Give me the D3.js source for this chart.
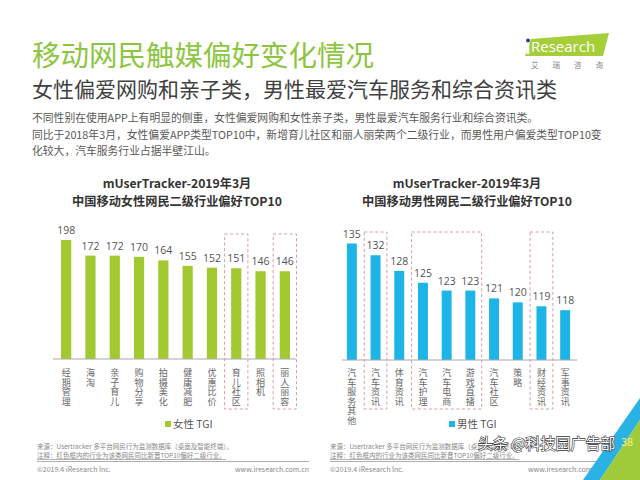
<!DOCTYPE html>
<html><head><meta charset="utf-8">
<script src="https://cdn.jsdelivr.net/npm/d3@7"></script>
<style>
html,body{margin:0;padding:0;background:#fff;}
svg{display:block;font-family:"Noto Sans CJK SC","Noto Sans",sans-serif;}
</style></head>
<body>
<svg id="c" width="640" height="480"></svg>
<script>
const femaleCats = ["经期管理","海淘","亲子育儿","购物分享","拍摄美化","健康减肥","优惠比价","育儿社区","照相机","丽人丽容"];
const femaleVals = [198,172,172,170,164,155,152,151,146,146];
const femaleNew = [["育儿社区"],["丽人丽容"]];
const maleCats = ["汽车服务其他","汽车资讯","体育资讯","汽车护理","汽车电商","游戏直播","汽车社区","策略","财经资讯","军事资讯"];
const maleVals = [135,132,128,125,123,123,121,120,119,118];
const maleNew = [["汽车资讯"],["汽车护理","汽车电商","游戏直播"],["财经资讯"]];
const bodyLines = [
  "不同性别在使用APP上有明显的侧重，女性偏爱网购和女性亲子类，男性最爱汽车服务行业和综合资讯类。",
  "同比于2018年3月，女性偏爱APP类型TOP10中，新增育儿社区和丽人丽荣两个二级行业，而男性用户偏爱类型TOP10变",
  "化较大，汽车服务行业占据半壁江山。"
];

const svg = d3.select("#c");
svg.append("rect").attr("width",640).attr("height",480).attr("fill","#fff");

// Header
svg.append("text").attr("x",32).attr("y",66).attr("fill","#8cc63f")
  .attr("font-size",28.5).text("移动网民触媒偏好变化情况");
svg.append("text").attr("x",32).attr("y",97).attr("fill","#404040")
  .attr("font-size",21).text("女性偏爱网购和亲子类，男性最爱汽车服务和综合资讯类");
bodyLines.forEach((t,i)=>{
  svg.append("text").attr("x",32).attr("y",122+i*16.5).attr("fill","#595959")
    .attr("font-size",10.8).text(t);
});

// Logo
svg.append("polygon").attr("points","531,39 609,33 603,56 525,56").attr("fill","#a6ce39");
svg.append("text").attr("x",531).attr("y",52).attr("fill","#fff").attr("font-size",15)
  .attr("font-family","Open Sans, sans-serif").text("Research");
svg.append("rect").attr("x",526.5).attr("y",44).attr("width",2.8).attr("height",10).attr("fill","#fff");
svg.append("circle").attr("cx",528).attr("cy",40.5).attr("r",1.9).attr("fill","#1f3f8f");
svg.append("text").attr("x",531).attr("y",68).attr("fill","#888").attr("font-size",7.5)
  .attr("letter-spacing",14).text("艾瑞咨询");

function chart(cfg){
  const g = svg.append("g");
  const x = d3.scaleBand().domain(cfg.cats).range(cfg.xr).paddingInner(0.58).paddingOuter(0.29);
  const y = d3.scaleLinear().domain(cfg.yd).range([cfg.base, cfg.top]);
  const step = x.step();
  const cx = c => x(c) + x.bandwidth()/2;
  cfg.title.forEach((t,i)=>{
    g.append("text").attr("x",cfg.tx).attr("y",188+i*18).attr("text-anchor","middle")
      .attr("font-size",12.2).attr("font-weight","bold").attr("fill","#333").text(t);
  });
  cfg.boxes.forEach(b=>{
    const x0 = cx(b[0]) - step/2 + 0.5, x1 = cx(b[b.length-1]) + step/2 - 0.5;
    g.append("rect").attr("x",x0).attr("y",cfg.boxTop).attr("width",x1-x0).attr("height",409-cfg.boxTop)
      .attr("fill","none").attr("stroke","#d89aa6").attr("stroke-width",1).attr("stroke-dasharray","3,2.5");
  });
  g.selectAll("rect.bar").data(cfg.cats).enter().append("rect").attr("class","bar")
    .attr("x",c=>x(c)).attr("width",x.bandwidth())
    .attr("y",(c,i)=>y(cfg.vals[i])).attr("height",(c,i)=>cfg.base - y(cfg.vals[i]))
    .attr("fill",cfg.color);
  g.selectAll("text.val").data(cfg.cats).enter().append("text").attr("class","val")
    .attr("x",c=>cx(c)).attr("y",(c,i)=>y(cfg.vals[i]) - 6).attr("text-anchor","middle")
    .attr("font-size",10.5).attr("fill","#555").attr("font-family","Open Sans, Noto Sans, sans-serif")
    .text((c,i)=>cfg.vals[i]);
  const ax = d3.axisBottom(x).tickSize(0).tickFormat("");
  const axg = g.append("g").attr("transform",`translate(0,${cfg.base})`).call(ax);
  axg.select(".domain").attr("stroke","#aaa").attr("stroke-width",1.2)
    .attr("d",`M${cfg.axr[0]},0H${cfg.axr[1]}`);
  // vertical category labels (vertical writing mode, one tspan per character)
  cfg.cats.forEach(c=>{
    const t = g.append("text").attr("font-size",9).attr("fill","#666")
      .attr("style","writing-mode:vertical-rl;text-orientation:upright;")
      .attr("x",cx(c)).attr("y",368).attr("letter-spacing",0.6);
    Array.from(c).forEach(ch=>{ t.append("tspan").text(ch); });
  });
  g.append("rect").attr("x",cfg.lx).attr("y",421).attr("width",6).attr("height",6).attr("fill",cfg.color);
  g.append("text").attr("x",cfg.lx+8).attr("y",428).attr("font-size",10.5).attr("fill","#555").text(cfg.legend);
}

chart({cats:femaleCats, vals:femaleVals, xr:[54,297], yd:[0,198], base:359, top:240,
  color:"#a2c930", title:["mUserTracker-2019年3月","中国移动女性网民二级行业偏好TOP10"], tx:177,
  boxes:femaleNew, boxTop:234, axr:[53,296], lx:165, legend:"女性 TGI"});
chart({cats:maleCats, vals:maleVals, xr:[340,577], yd:[105.3,135], base:360, top:243.5,
  color:"#1db5e8", title:["mUserTracker-2019年3月","中国移动男性网民二级行业偏好TOP10"], tx:467,
  boxes:maleNew, boxTop:232, axr:[342,577], lx:449, legend:"男性 TGI"});

function footer(x0, x1){
  svg.append("text").attr("x",x0).attr("y",448.5).attr("font-size",6.5).attr("fill","#888")
    .text("来源：Usertracker 多平台网民行为监测数据库（桌面及智能终端）。");
  svg.append("text").attr("x",x0).attr("y",458).attr("font-size",6.5).attr("fill","#888")
    .attr("text-decoration","underline")
    .text("注释：红色框内的行业为该类网民同比新晋TOP10偏好二级行业。");
  svg.append("line").attr("x1",x0).attr("x2",x1).attr("y1",461.5).attr("y2",461.5)
    .attr("stroke","#999").attr("stroke-width",0.8);
  svg.append("text").attr("x",x0).attr("y",472).attr("font-size",7).attr("fill","#888")
    .text("©2019.4 iResearch Inc.");
  svg.append("text").attr("x",x1).attr("y",472).attr("font-size",7).attr("fill","#888")
    .attr("text-anchor","end").text("www.iresearch.com.cn");
}
footer(37, 309);
footer(330, 602);

svg.append("polygon").attr("points","583,480 640,398 640,420 600,480").attr("fill","#2ab2e4");
svg.append("polygon").attr("points","600,480 640,420 640,480").attr("fill","#9fcb3a");
svg.append("text").attr("x",627).attr("y",446).attr("font-size",11).attr("fill","#f4f08a")
  .attr("text-anchor","middle").text("38");

svg.append("text").attr("x",478).attr("y",449).attr("font-size",15).attr("fill","#fff")
  .attr("stroke","#333").attr("stroke-width",1.2).attr("paint-order","stroke")
  .text("头条 @科技园广告部");
</script>
</body></html>
